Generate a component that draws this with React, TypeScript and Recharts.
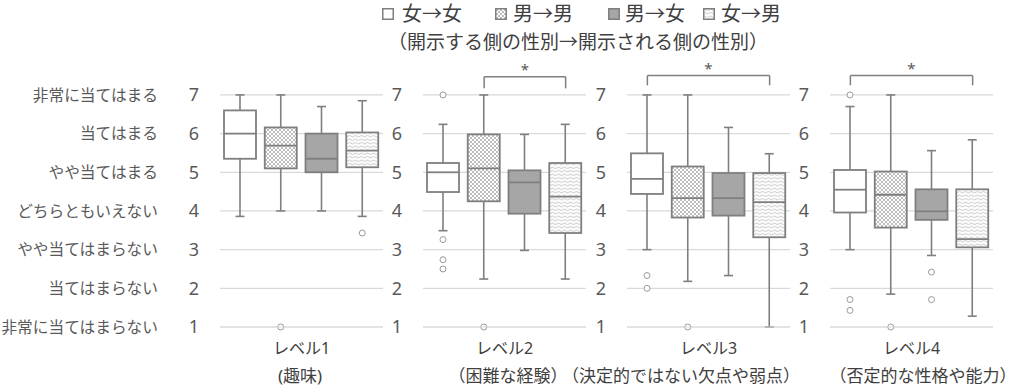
import { ComposedChart, Bar, XAxis, YAxis, CartesianGrid, ReferenceLine } from 'recharts'

const groups = ['女→女', '男→男', '男→女', '女→男']
const levels = ['レベル1', 'レベル2', 'レベル3', 'レベル4']
const levelNotes = ['(趣味)', '（困難な経験）', '（決定的ではない欠点や弱点）', '（否定的な性格や能力）']
const scaleLabels = ['非常に当てはまらない', '当てはまらない', 'やや当てはまらない', 'どちらともいえない', 'やや当てはまる', '当てはまる', '非常に当てはまる']
const yTicks = [1, 2, 3, 4, 5, 6, 7]

// per group: [low whisker, q1, median, q3, high whisker]
const level1Stats = [[3.86, 5.35, 6.0, 6.6, 7], [4.0, 5.1, 5.69, 6.16, 7], [4.0, 5.0, 5.35, 6.0, 6.7], [3.86, 5.13, 5.56, 6.03, 6.85]]
const level2Stats = [[3.49, 4.49, 5.0, 5.24, 6.24], [2.24, 4.25, 5.1, 5.98, 7], [2.98, 3.93, 4.74, 5.05, 5.98], [2.24, 3.43, 4.37, 5.24, 6.24]]
const level3Stats = [[3.0, 4.44, 4.83, 5.49, 7], [2.18, 3.83, 4.33, 5.15, 7], [2.33, 3.88, 4.33, 4.98, 6.16], [1.0, 3.32, 4.23, 4.98, 5.48]]
const level4Stats = [[3.0, 3.96, 4.55, 5.06, 6.7], [1.85, 3.57, 4.42, 5.02, 7], [2.85, 3.77, 3.99, 4.56, 5.56], [1.28, 3.06, 3.27, 4.56, 5.84]]

const level1Outliers = [[], [1], [], [3.43]]
const level2Outliers = [[7, 3.26, 2.74, 2.5], [1], [], []]
const level3Outliers = [[2.33, 2.0], [1], [], []]
const level4Outliers = [[7, 1.71, 1.43], [1], [2.42, 1.71], []]

// significant pairs: [group from, group to, bracket height, tip height]
const level1Sig: number[][] = []
const level2Sig = [[1, 3, 7.47, 7.17]]
const level3Sig = [[0, 3, 7.5, 7.25]]
const level4Sig = [[0, 3, 7.5, 7.25]]

const allStats = [level1Stats, level2Stats, level3Stats, level4Stats]
const allOutliers = [level1Outliers, level2Outliers, level3Outliers, level4Outliers]
const allSig = [level1Sig, level2Sig, level3Sig, level4Sig]

const fills = ['#ffffff', 'url(#crossHatch)', '#a6a6a6', 'url(#wavy)']
const plotLefts = [220, 423, 627, 830]
const plotWidth = 163
const textColor = '#595959'
const lineColor = '#7f7f7f'
const gridColor = '#d9d9d9'
const font = '"Noto Sans", "Noto Sans CJK JP", sans-serif'

function BoxShape(props: any) {
  const { x, y, width, height, payload, index } = props
  const k = height / (payload.q3 - payload.q1)
  const py = (v: number) => y + (payload.q3 - v) * k
  const cx = x + width / 2
  const cap = 4.5
  return (
    <g>
      <line x1={cx} x2={cx} y1={py(payload.hi)} y2={y} stroke={lineColor} strokeWidth={1.6} />
      <line x1={cx} x2={cx} y1={y + height} y2={py(payload.lo)} stroke={lineColor} strokeWidth={1.6} />
      <line x1={cx - cap} x2={cx + cap} y1={py(payload.hi)} y2={py(payload.hi)} stroke={lineColor} strokeWidth={1.6} />
      <line x1={cx - cap} x2={cx + cap} y1={py(payload.lo)} y2={py(payload.lo)} stroke={lineColor} strokeWidth={1.6} />
      <rect x={x} y={y} width={width} height={height} fill={fills[index]} stroke={lineColor} strokeWidth={1.8} />
      <line x1={x} x2={x + width} y1={py(payload.med)} y2={py(payload.med)} stroke={lineColor} strokeWidth={1.8} />
      {payload.out.map((v: number, i: number) => (
        <circle key={i} cx={cx} cy={py(v)} r={3} fill="#ffffff" stroke="#9a9a9a" strokeWidth={1} />
      ))}
    </g>
  )
}

function NumberTick(props: any) {
  const { x, y, payload, withLabel } = props
  return (
    <g>
      <text x={x} y={y} dy="0.36em" textAnchor="end" fill={textColor} fontSize={18} fontFamily={font}>{payload.value}</text>
      {withLabel && (
        <text x={x - 41} y={y} dy="0.36em" textAnchor="end" fill={textColor} fontSize={15.7} fontFamily={font}>{scaleLabels[payload.value - 1]}</text>
      )}
    </g>
  )
}

function Panel({ level }: { level: number }) {
  const data = groups.map((g, i) => {
    const [lo, q1, med, q3, hi] = allStats[level][i]
    return { group: g, lo, q1, med, q3, hi, out: allOutliers[level][i] }
  })
  const first = level === 0
  const left = first ? 0 : plotLefts[level] - 40
  const width = plotLefts[level] + plotWidth - left
  return (
    <div style={{ position: 'absolute', left, top: 54 }}>
      <ComposedChart width={width} height={283} data={data} margin={{ top: 10, right: 0, bottom: 9, left: 0 }}>
        <CartesianGrid vertical={false} stroke={gridColor} strokeWidth={1.2} syncWithTicks />
        <XAxis
          dataKey="group"
          type="category"
          height={1}
          tick={false}
          tickLine={false}
          axisLine={{ stroke: gridColor, strokeWidth: 1.2 }}
        />
        <YAxis
          type="number"
          domain={[1, 7.8]}
          ticks={yTicks}
          interval={0}
          width={plotLefts[level] - left}
          tickLine={false}
          axisLine={false}
          tickMargin={15}
          tick={<NumberTick withLabel={first} />}
        />
        <Bar dataKey={(d: any) => [d.q1, d.q3]} barSize={32} shape={BoxShape} isAnimationActive={false} />
        {allSig[level].map(([a, b, top, tip], i) => [
          <ReferenceLine
            key={`h${i}`}
            segment={[{ x: groups[a], y: top }, { x: groups[b], y: top }]}
            stroke={lineColor}
            strokeWidth={1.5}
            ifOverflow="visible"
            label={{ value: '*', position: 'top', offset: 2, fill: textColor, fontSize: 15, fontFamily: font }}
          />,
          <ReferenceLine key={`a${i}`} segment={[{ x: groups[a], y: top }, { x: groups[a], y: tip }]} stroke={lineColor} strokeWidth={1.5} ifOverflow="visible" />,
          <ReferenceLine key={`b${i}`} segment={[{ x: groups[b], y: top }, { x: groups[b], y: tip }]} stroke={lineColor} strokeWidth={1.5} ifOverflow="visible" />,
        ])}
      </ComposedChart>
    </div>
  )
}

const legendPos = [[382, 402], [495, 513], [608, 625], [703, 721]]
const notePos = [300, 508, 681, 923]

export default function App() {
  return (
    <div style={{ position: 'absolute', left: 0, top: 0, width: 1024, height: 387, background: '#ffffff', fontFamily: font, overflow: 'hidden' }}>
      <svg width={0} height={0} style={{ position: 'absolute' }}>
        <defs>
          <pattern id="crossHatch" width={4} height={4} patternUnits="userSpaceOnUse">
            <rect width={4} height={4} fill="#ffffff" />
            <path d="M0 0 L4 4 M4 0 L0 4" stroke="#a0a0a0" strokeWidth={0.7} />
          </pattern>
          <pattern id="wavy" width={6} height={3.5} patternUnits="userSpaceOnUse">
            <rect width={6} height={3.5} fill="#ffffff" />
            <path d="M0 1.75 L1.5 1 L3 1.75 L4.5 2.5 L6 1.75" fill="none" stroke="#a6a6a6" strokeWidth={0.7} />
          </pattern>
        </defs>
      </svg>
      {groups.map((g, i) => (
        <div key={g} style={{ position: 'absolute', top: 2, left: legendPos[i][0], height: 24, display: 'flex', alignItems: 'center' }}>
          <svg width={12} height={12} style={{ display: 'block' }}>
            <rect x={0.75} y={0.75} width={10.5} height={10.5} fill={fills[i]} stroke={lineColor} strokeWidth={1.5} />
          </svg>
          <span style={{ position: 'absolute', left: legendPos[i][1] - legendPos[i][0], whiteSpace: 'nowrap', fontSize: 20, color: '#404040', lineHeight: '24px' }}>{g}</span>
        </div>
      ))}
      <div style={{ position: 'absolute', top: 30, left: 388, fontSize: 19, color: '#404040', whiteSpace: 'nowrap', lineHeight: '24px' }}>
        （開示する側の性別→開示される側の性別）
      </div>
      {[0, 1, 2, 3].map(l => <Panel key={l} level={l} />)}
      {levels.map((t, i) => (
        <div key={t} style={{ position: 'absolute', top: 337, left: plotLefts[i] + plotWidth / 2 - 60, width: 120, textAlign: 'center', fontSize: 16, color: '#404040', lineHeight: '22px' }}>{t}</div>
      ))}
      {levelNotes.map((t, i) => (
        <div key={t} style={{ position: 'absolute', top: 365, left: notePos[i] - 130, width: 260, textAlign: 'center', fontSize: 17, color: '#404040', lineHeight: '22px', whiteSpace: 'nowrap' }}>{t}</div>
      ))}
    </div>
  )
}
